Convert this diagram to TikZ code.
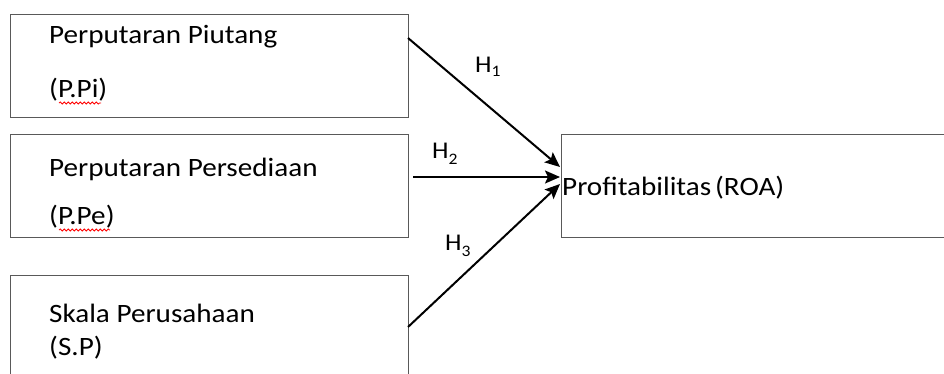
\documentclass[tikz,border=0pt]{standalone}
\usepackage{fontspec}
\setmainfont{Carlito}[FakeStretch=1.1]
\usetikzlibrary{arrows.meta,decorations.pathmorphing}
\begin{document}
\begin{tikzpicture}[x=1pt,y=-1pt,
  box/.style={draw=black!65,line width=1.3pt,anchor=north west,inner sep=0pt},
  lbl/.style={anchor=base west,inner sep=0pt,font=\fontsize{26.5}{30}\selectfont},
  hlbl/.style={anchor=base west,inner sep=0pt,font=\fontsize{24}{28}\selectfont},
  arr/.style={line width=2pt,-{Stealth[length=15pt,width=13pt,inset=3pt]}},
  squig/.style={draw=red,line width=0.8pt,decorate,decoration={snake,amplitude=1pt,segment length=4pt}}]
\useasboundingbox (0,0) rectangle (944,373);
\clip (0,0) rectangle (944,373);
% boxes
\node[box,minimum width=398pt,minimum height=103pt] (b1) at (10,14) {};
\node[box,minimum width=398pt,minimum height=103pt] (b2) at (10,134) {};
\node[box,minimum width=398pt,minimum height=140pt] (b3) at (10,275) {};
\node[box,minimum width=420pt,minimum height=103pt] (roa) at (561,134) {};
% texts
\node[lbl] (t1a) at (49,43) {Perputaran Piutang};
\node[lbl] (t1b) at (49,97) {(P.Pi)};
\node[lbl] (t2a) at (49,176) {Perputaran Persediaan};
\node[lbl] (t2b) at (49,224) {(P.Pe)};
\node[lbl] (t3a) at (49,322) {Skala Perusahaan};
\node[lbl] (t3b) at (49,355) {(S.P)};
\node[lbl] (troa) at (562,195) {Profitabilitas\hspace{-0.1em} (ROA)};
% spell-check underlines
\draw[squig] (59,103) -- (101,103);
\draw[squig] (59,230) -- (110,230);
% arrows
\coordinate (s1) at (408,38);
\coordinate (s2) at (413,177);
\coordinate (s3) at (408,327);
\coordinate (e1) at (560,167);
\coordinate (e2) at (560,177);
\coordinate (e3) at (560,184);
\draw[arr] (s1) -- (e1);
\draw[arr] (s2) -- (e2);
\draw[arr] (s3) -- (e3);
% hypothesis labels
\node[hlbl] (h1) at (475,72) {H\raisebox{-0.35ex}{\fontsize{16}{18}\selectfont 1}};
\node[hlbl] (h2) at (432,158) {H\raisebox{-0.6ex}{\fontsize{16}{18}\selectfont 2}};
\node[hlbl] (h3) at (445,250) {H\raisebox{-0.6ex}{\fontsize{16}{18}\selectfont 3}};
\end{tikzpicture}
\end{document}
